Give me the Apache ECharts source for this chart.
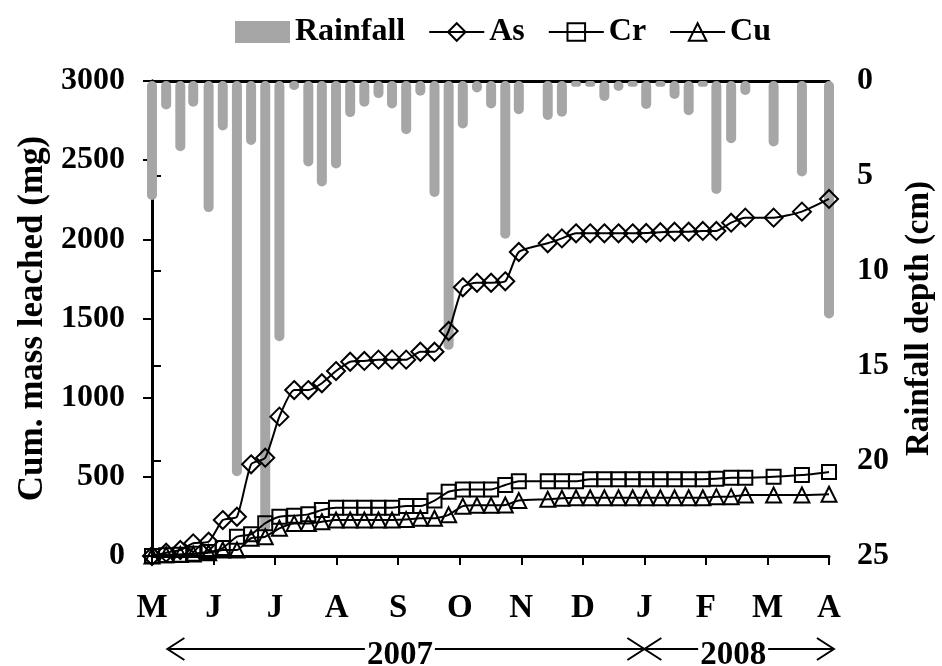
<!DOCTYPE html>
<html>
<head>
<meta charset="utf-8">
<script src="https://cdn.jsdelivr.net/npm/echarts@6/dist/echarts.min.js"></script>
<style>
  html, body { margin: 0; padding: 0; background: #fff; }
  #chart { width: 942px; height: 666px; }
</style>
</head>
<body>
<div id="chart"></div>
<script>
  // sampling dates, as months after 1 May 2007
  var sampleMonths = [0, 0.23, 0.46, 0.67, 0.92, 1.15, 1.38, 1.61, 1.84, 2.07,
    2.31, 2.54, 2.76, 2.99, 3.22, 3.45, 3.68, 3.9, 4.13, 4.36,
    4.59, 4.82, 5.05, 5.28, 5.51, 5.74, 5.96, 6.43, 6.66, 6.89,
    7.12, 7.35, 7.58, 7.81, 8.03, 8.26, 8.49, 8.72, 8.95, 9.17,
    9.41, 9.64, 10.1, 10.56, 11]
  // weekly rainfall depth (cm)
  var rainfall = [6.26, 1.5, 3.7, 1.35, 6.9, 2.6, 20.8, 3.37, 23.7, 13.7,
    0.47, 4.5, 5.55, 4.6, 1.9, 1.35, 0.9, 1.45, 2.8, 0.77,
    6.1, 14.15, 2.5, 0.6, 1.45, 8.3, 1.75, 2.05, 1.88, 0.3,
    0.3, 1.05, 0.53, 0.3, 1.47, 0.3, 0.95, 1.8, 0.3, 5.95,
    3.28, 0.74, 3.45, 5.03, 12.5]
  // cumulative mass leached (mg)
  var asMass = [0, 21, 38, 80, 90, 227, 248, 579, 621, 880,
    1048, 1048, 1091, 1168, 1227, 1232, 1240, 1240, 1240, 1290,
    1290, 1421, 1697, 1726, 1726, 1735, 1920, 1975, 2006, 2038,
    2038, 2038, 2038, 2038, 2040, 2045, 2048, 2048, 2053, 2053,
    2105, 2137, 2137, 2175, 2255]
  var crMass = [0, 5, 8, 15, 25, 50, 122, 137, 207, 248,
    255, 263, 290, 305, 305, 305, 305, 305, 316, 316,
    350, 406, 420, 420, 420, 448, 472, 472, 472, 472,
    485, 485, 485, 485, 485, 485, 485, 485, 485, 488,
    495, 495, 501, 511, 531]
  var cuMass = [0, 8, 10, 12, 20, 38, 38, 112, 122, 175,
    206, 206, 216, 227, 227, 227, 227, 227, 230, 238,
    238, 260, 315, 320, 320, 322, 350, 358, 365, 368,
    368, 368, 368, 368, 368, 368, 368, 368, 368, 375,
    375, 385, 385, 385, 390]
  var monthLabels = ['M', 'J', 'J', 'A', 'S', 'O', 'N', 'D', 'J', 'F', 'M', 'A']
  var yearLabels = ['2007', '2008']
  var yearStart = [0.25, 8]
  var yearEnd = [8, 11.08]

  var serif = "'Liberation Serif', 'Times New Roman', serif"
  function boldText(size) {
    return {fontFamily: serif, fontWeight: 'bold', fontSize: size, color: '#000'}
  }

  function pairs(values) {
    return sampleMonths.map(function (m, i) {
      return [m, values[i]]
    })
  }

  function lineSeries(name, values, symbol, size) {
    return {
      name: name,
      type: 'line',
      data: pairs(values),
      smooth: 0.2,
      symbol: symbol,
      symbolSize: size,
      showAllSymbol: true,
      lineStyle: {color: '#000', width: 2},
      itemStyle: {color: 'rgba(0,0,0,0)', borderColor: '#000', borderWidth: 2},
      z: 3
    }
  }

  var chart = echarts.init(document.getElementById('chart'))
  var axisLine = {show: true, lineStyle: {color: '#000', width: 3}}
  var axisTick = {show: true, inside: false, length: 9, lineStyle: {color: '#000', width: 2}}
  var plain = function (v) { return String(v) }

  chart.setOption({
    animation: false,
    grid: {left: 152, right: 113, top: 81, bottom: 110, outerBoundsMode: 'none', containLabel: false},
    legend: {
      left: 230,
      top: 11,
      itemWidth: 55,
      itemHeight: 22,
      itemGap: 23,
      textStyle: boldText(32),
      data: [
        {name: 'Rainfall', icon: 'rect'},
        {name: 'As'},
        {name: 'Cr'},
        {name: 'Cu'}
      ]
    },
    xAxis: [
      {
        type: 'value',
        min: 0,
        max: 11,
        interval: 1,
        axisLine: axisLine,
        axisTick: axisTick,
        splitLine: {show: false},
        axisLabel: Object.assign({
          margin: 36,
          formatter: function (v) { return monthLabels[v] }
        }, boldText(33))
      },
      {
        type: 'value',
        position: 'top',
        min: 0,
        max: 11,
        axisLine: axisLine,
        axisTick: {show: false},
        axisLabel: {show: false},
        splitLine: {show: false}
      }
    ],
    yAxis: [
      {
        type: 'value',
        min: 0,
        max: 3000,
        interval: 500,
        name: 'Cum. mass leached (mg)',
        nameLocation: 'middle',
        nameRotate: 90,
        nameGap: 94,
        nameTextStyle: boldText(35),
        axisLine: axisLine,
        axisTick: axisTick,
        splitLine: {show: false},
        axisLabel: Object.assign({margin: 27, formatter: plain}, boldText(32))
      },
      {
        type: 'value',
        position: 'right',
        inverse: true,
        min: 0,
        max: 25,
        interval: 5,
        name: 'Rainfall depth (cm)',
        nameLocation: 'middle',
        nameRotate: 90,
        nameGap: 74,
        nameTextStyle: boldText(33),
        axisLine: axisLine,
        axisTick: axisTick,
        splitLine: {show: false},
        axisLabel: Object.assign({margin: 28, formatter: plain}, boldText(32))
      }
    ],
    series: [
      {
        name: 'Rainfall',
        type: 'bar',
        yAxisIndex: 1,
        barWidth: 10,
        clip: true,
        data: pairs(rainfall),
        itemStyle: {color: '#a6a6a6', borderRadius: 5},
        z: 2
      },
      lineSeries('As', asMass, 'diamond', 18),
      lineSeries('Cr', crMass, 'rect', 14),
      lineSeries('Cu', cuMass, 'triangle', 15)
    ]
  })

  // year spans under the month axis, placed through the x scale
  function yearGraphics() {
    var yBase = chart.convertToPixel({yAxisIndex: 0}, 0) + 93
    var els = []
    var pen = {stroke: '#000', lineWidth: 2, fill: null}
    yearLabels.forEach(function (label, i) {
      var x1 = chart.convertToPixel({xAxisIndex: 0}, yearStart[i])
      var x2 = chart.convertToPixel({xAxisIndex: 0}, yearEnd[i])
      els.push({type: 'line', shape: {x1: x1, y1: yBase, x2: x2, y2: yBase}, style: pen, silent: true})
      els.push({type: 'polyline', shape: {points: [[x1 + 17, yBase - 11], [x1, yBase], [x1 + 17, yBase + 11]]}, style: pen, silent: true})
      els.push({type: 'polyline', shape: {points: [[x2 - 17, yBase - 11], [x2, yBase], [x2 - 17, yBase + 11]]}, style: pen, silent: true})
      els.push({
        type: 'text',
        x: (x1 + x2) / 2 - 6,
        y: yBase + 6,
        style: {
          text: label,
          font: 'bold 33px ' + serif,
          fill: '#000',
          align: 'center',
          verticalAlign: 'middle',
          backgroundColor: '#fff',
          padding: [0, 2]
        },
        silent: true
      })
    })
    return els
  }

  chart.setOption({graphic: yearGraphics()})
</script>
</body>
</html>
